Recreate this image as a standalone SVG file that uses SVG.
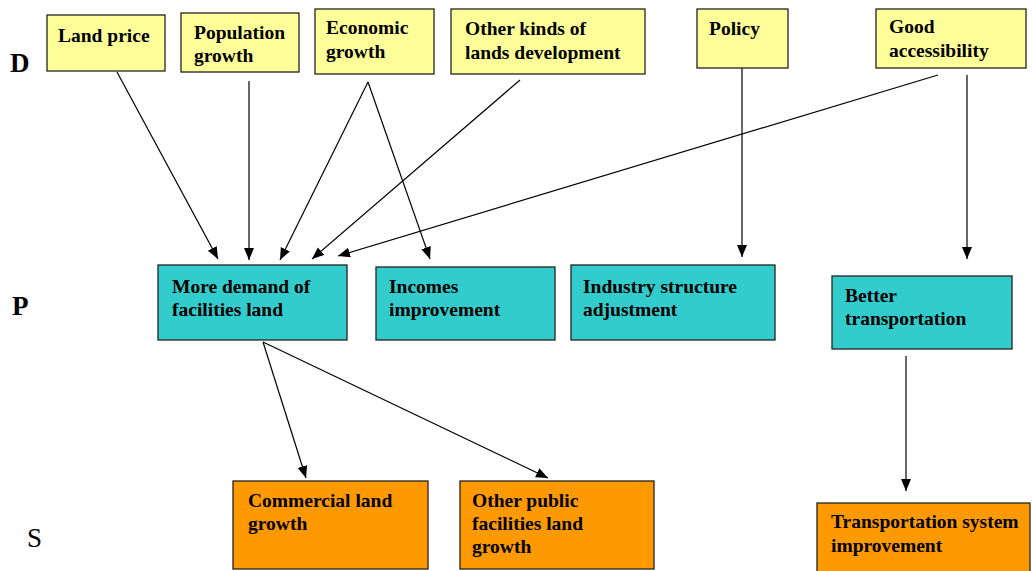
<svg xmlns="http://www.w3.org/2000/svg" width="1032" height="571" viewBox="0 0 1032 571">
  <style>
    .box { stroke: #222; stroke-width: 1.3; }
    .d { fill: #FFFF99; }
    .p { fill: #33CCCC; }
    .s { fill: #FF9900; }
    .link { stroke: #000; stroke-width: 1.2; fill: none; marker-end: url(#arrow); }
    .lbl { font-family: 'Liberation Serif', serif; font-size: 19.5px; font-weight: bold; fill: #000; }
    .lvl { font-family: 'Liberation Serif', serif; font-size: 27px; fill: #000; }
  </style>
  <defs>
    <marker id="arrow" markerUnits="userSpaceOnUse" markerWidth="13" markerHeight="11" refX="12" refY="5" orient="auto">
      <path d="M0,0 L12,5 L0,10 z" fill="#000"/>
    </marker>
  </defs>
  <rect width="1032" height="571" fill="#fff"/>

  <!-- level labels -->
  <g id="levels">
    <text class="lvl" x="10" y="72" font-weight="bold">D</text>
    <text class="lvl" x="12" y="315" font-weight="bold">P</text>
    <text class="lvl" x="27" y="547">S</text>
  </g>

  <!-- connectors -->
  <g id="connectors">
    <line class="link" x1="117" y1="72" x2="218" y2="259"/>
    <line class="link" x1="249" y1="81" x2="249" y2="260"/>
    <line class="link" x1="368" y1="82" x2="280" y2="260"/>
    <line class="link" x1="368" y1="82" x2="430" y2="259"/>
    <line class="link" x1="520" y1="80" x2="312" y2="259"/>
    <line class="link" x1="938" y1="75" x2="338" y2="256"/>
    <line class="link" x1="742" y1="68" x2="742" y2="257"/>
    <line class="link" x1="967" y1="75" x2="967" y2="259"/>
    <line class="link" x1="263" y1="342" x2="306" y2="478"/>
    <line class="link" x1="263" y1="342" x2="548" y2="478"/>
    <line class="link" x1="906" y1="356" x2="906" y2="491"/>
  </g>

  <!-- drivers -->
  <g id="land-price">
    <rect class="box d" x="47" y="15" width="118" height="56"/>
    <text class="lbl" x="58" y="42">Land price</text>
  </g>
  <g id="population-growth">
    <rect class="box d" x="181" y="13" width="118" height="59"/>
    <text class="lbl" x="194" y="39">Population<tspan x="194" y="62">growth</tspan></text>
  </g>
  <g id="economic-growth">
    <rect class="box d" x="315" y="9" width="119" height="65"/>
    <text class="lbl" x="326" y="34">Economic<tspan x="326" y="58">growth</tspan></text>
  </g>
  <g id="other-lands">
    <rect class="box d" x="451" y="9" width="194" height="65"/>
    <text class="lbl" x="465" y="35">Other kinds of<tspan x="465" y="59">lands development</tspan></text>
  </g>
  <g id="policy">
    <rect class="box d" x="697" y="9" width="91" height="59"/>
    <text class="lbl" x="709" y="35">Policy</text>
  </g>
  <g id="good-accessibility">
    <rect class="box d" x="876" y="9" width="150" height="59"/>
    <text class="lbl" x="889" y="33">Good<tspan x="889" y="57">accessibility</tspan></text>
  </g>

  <!-- pressures -->
  <g id="more-demand">
    <rect class="box p" x="158" y="265" width="189" height="75"/>
    <text class="lbl" x="172" y="293">More demand of<tspan x="172" y="316">facilities land</tspan></text>
  </g>
  <g id="incomes">
    <rect class="box p" x="376" y="267" width="179" height="73"/>
    <text class="lbl" x="389" y="293">Incomes<tspan x="389" y="316">improvement</tspan></text>
  </g>
  <g id="industry">
    <rect class="box p" x="571" y="265" width="204" height="75"/>
    <text class="lbl" x="583" y="293">Industry structure<tspan x="583" y="316">adjustment</tspan></text>
  </g>
  <g id="better-transportation">
    <rect class="box p" x="832" y="276" width="180" height="73"/>
    <text class="lbl" x="845" y="302">Better<tspan x="845" y="325">transportation</tspan></text>
  </g>

  <!-- states -->
  <g id="commercial-land">
    <rect class="box s" x="233" y="481" width="195" height="88"/>
    <text class="lbl" x="248" y="507">Commercial land<tspan x="248" y="530">growth</tspan></text>
  </g>
  <g id="public-facilities">
    <rect class="box s" x="460" y="481" width="194" height="88"/>
    <text class="lbl" x="472" y="507">Other public<tspan x="472" y="530">facilities land</tspan><tspan x="472" y="553">growth</tspan></text>
  </g>
  <g id="transport-system">
    <rect class="box s" x="817" y="503" width="213" height="80"/>
    <text class="lbl" x="831" y="528">Transportation system<tspan x="831" y="552">improvement</tspan></text>
  </g>
</svg>
